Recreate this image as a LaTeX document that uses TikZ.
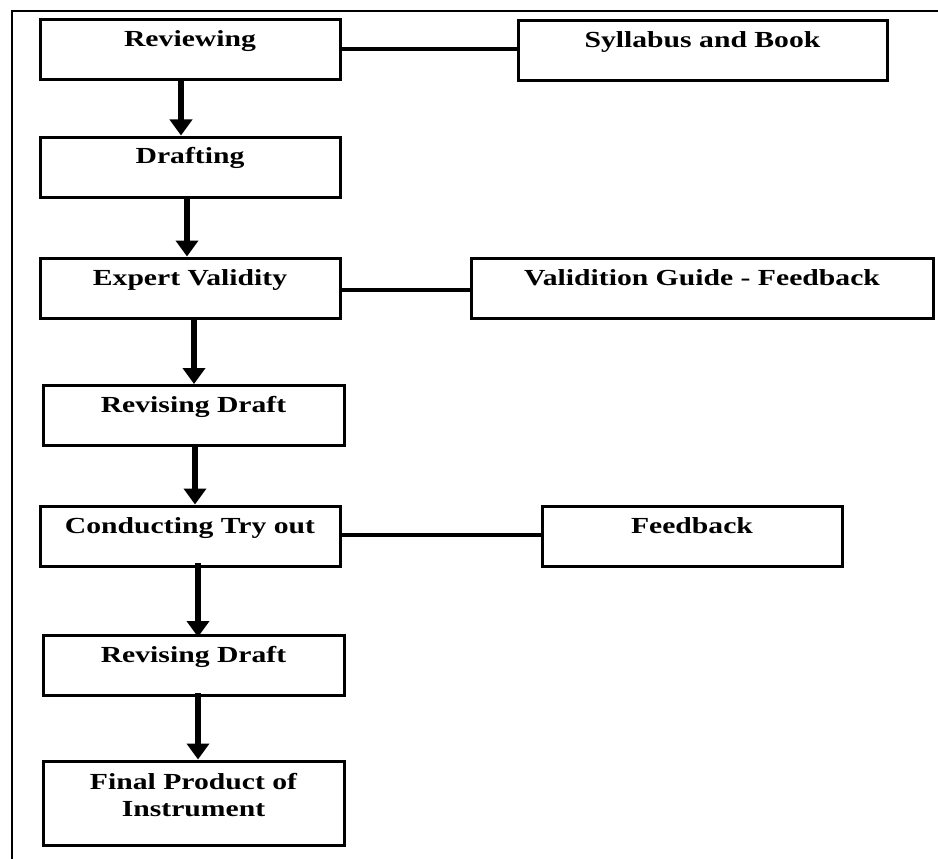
\documentclass[tikz,border=0pt]{standalone}
\usepackage{fontspec}
\newfontfamily\boxfont{Liberation Serif}[FakeStretch=1.29]
\usetikzlibrary{arrows.meta}
\begin{document}
\begin{tikzpicture}[x=1pt,y=-1pt,
  stepbox/.style={draw=black, line width=3pt, rectangle, inner sep=0pt,
    minimum width=#1, minimum height=60pt, text height=27pt, text depth=33pt,
    font=\boxfont\bfseries\fontsize{23}{27}\selectfont, align=center},
  flowarrow/.style={line width=5.5pt, -{Triangle[width=22pt,length=16pt]}},
  linkline/.style={line width=4.5pt},
  frameline/.style={line width=1.5pt}]
\useasboundingbox (0,0) rectangle (938,859);
\draw[frameline] (12,859) -- (12,11) -- (938,11);

\node[stepbox=300pt] (rev) at (190,50) {Reviewing};
\node[stepbox=369pt] (syl) at (702.5,51) {Syllabus and Book};
\node[stepbox=300pt] (draft) at (190,167) {Drafting};
\node[stepbox=300pt] (exp) at (190,288) {Expert Validity};
\node[stepbox=462pt] (val) at (702,288.5) {Validition Guide - Feedback};
\node[stepbox=301pt] (rev1) at (193.5,415.5) {Revising Draft};
\node[stepbox=300pt] (con) at (190,536) {Conducting Try out};
\node[stepbox=300pt] (fb) at (692,536.5) {Feedback};
\node[stepbox=301pt] (rev2) at (193.5,665.5) {Revising Draft};
\node[stepbox=301pt, minimum height=84pt, text height=55pt, text depth=29pt] (fin) at (193.5,803) {Final Product of\\Instrument};

\draw[linkline] ([yshift=1pt]rev.east) -- ([yshift=1pt]rev.east -| syl.west);
\draw[linkline] ([yshift=-2pt]exp.east) -- ([yshift=-2pt]exp.east -| val.west);
\draw[linkline] ([yshift=1pt]con.east) -- ([yshift=1pt]con.east -| fb.west);

\draw[flowarrow] ([xshift=-9pt]rev.south) -- ([xshift=-9pt]rev.south |- draft.north);
\draw[flowarrow] ([xshift=-3pt]draft.south) -- ([xshift=-3pt]draft.south |- exp.north);
\draw[flowarrow] ([xshift=4pt]exp.south) -- ([xshift=4pt]exp.south |- rev1.north);
\draw[flowarrow] ([xshift=1.5pt]rev1.south) -- ([xshift=1.5pt]rev1.south |- con.north);
\draw[flowarrow] ([xshift=8pt,yshift=5pt]con.south) -- ([xshift=8pt,yshift=-3pt]con.south |- rev2.north);
\draw[flowarrow] ([xshift=4.5pt,yshift=4pt]rev2.south) -- ([xshift=4.5pt]rev2.south |- fin.north);
\end{tikzpicture}
\end{document}
